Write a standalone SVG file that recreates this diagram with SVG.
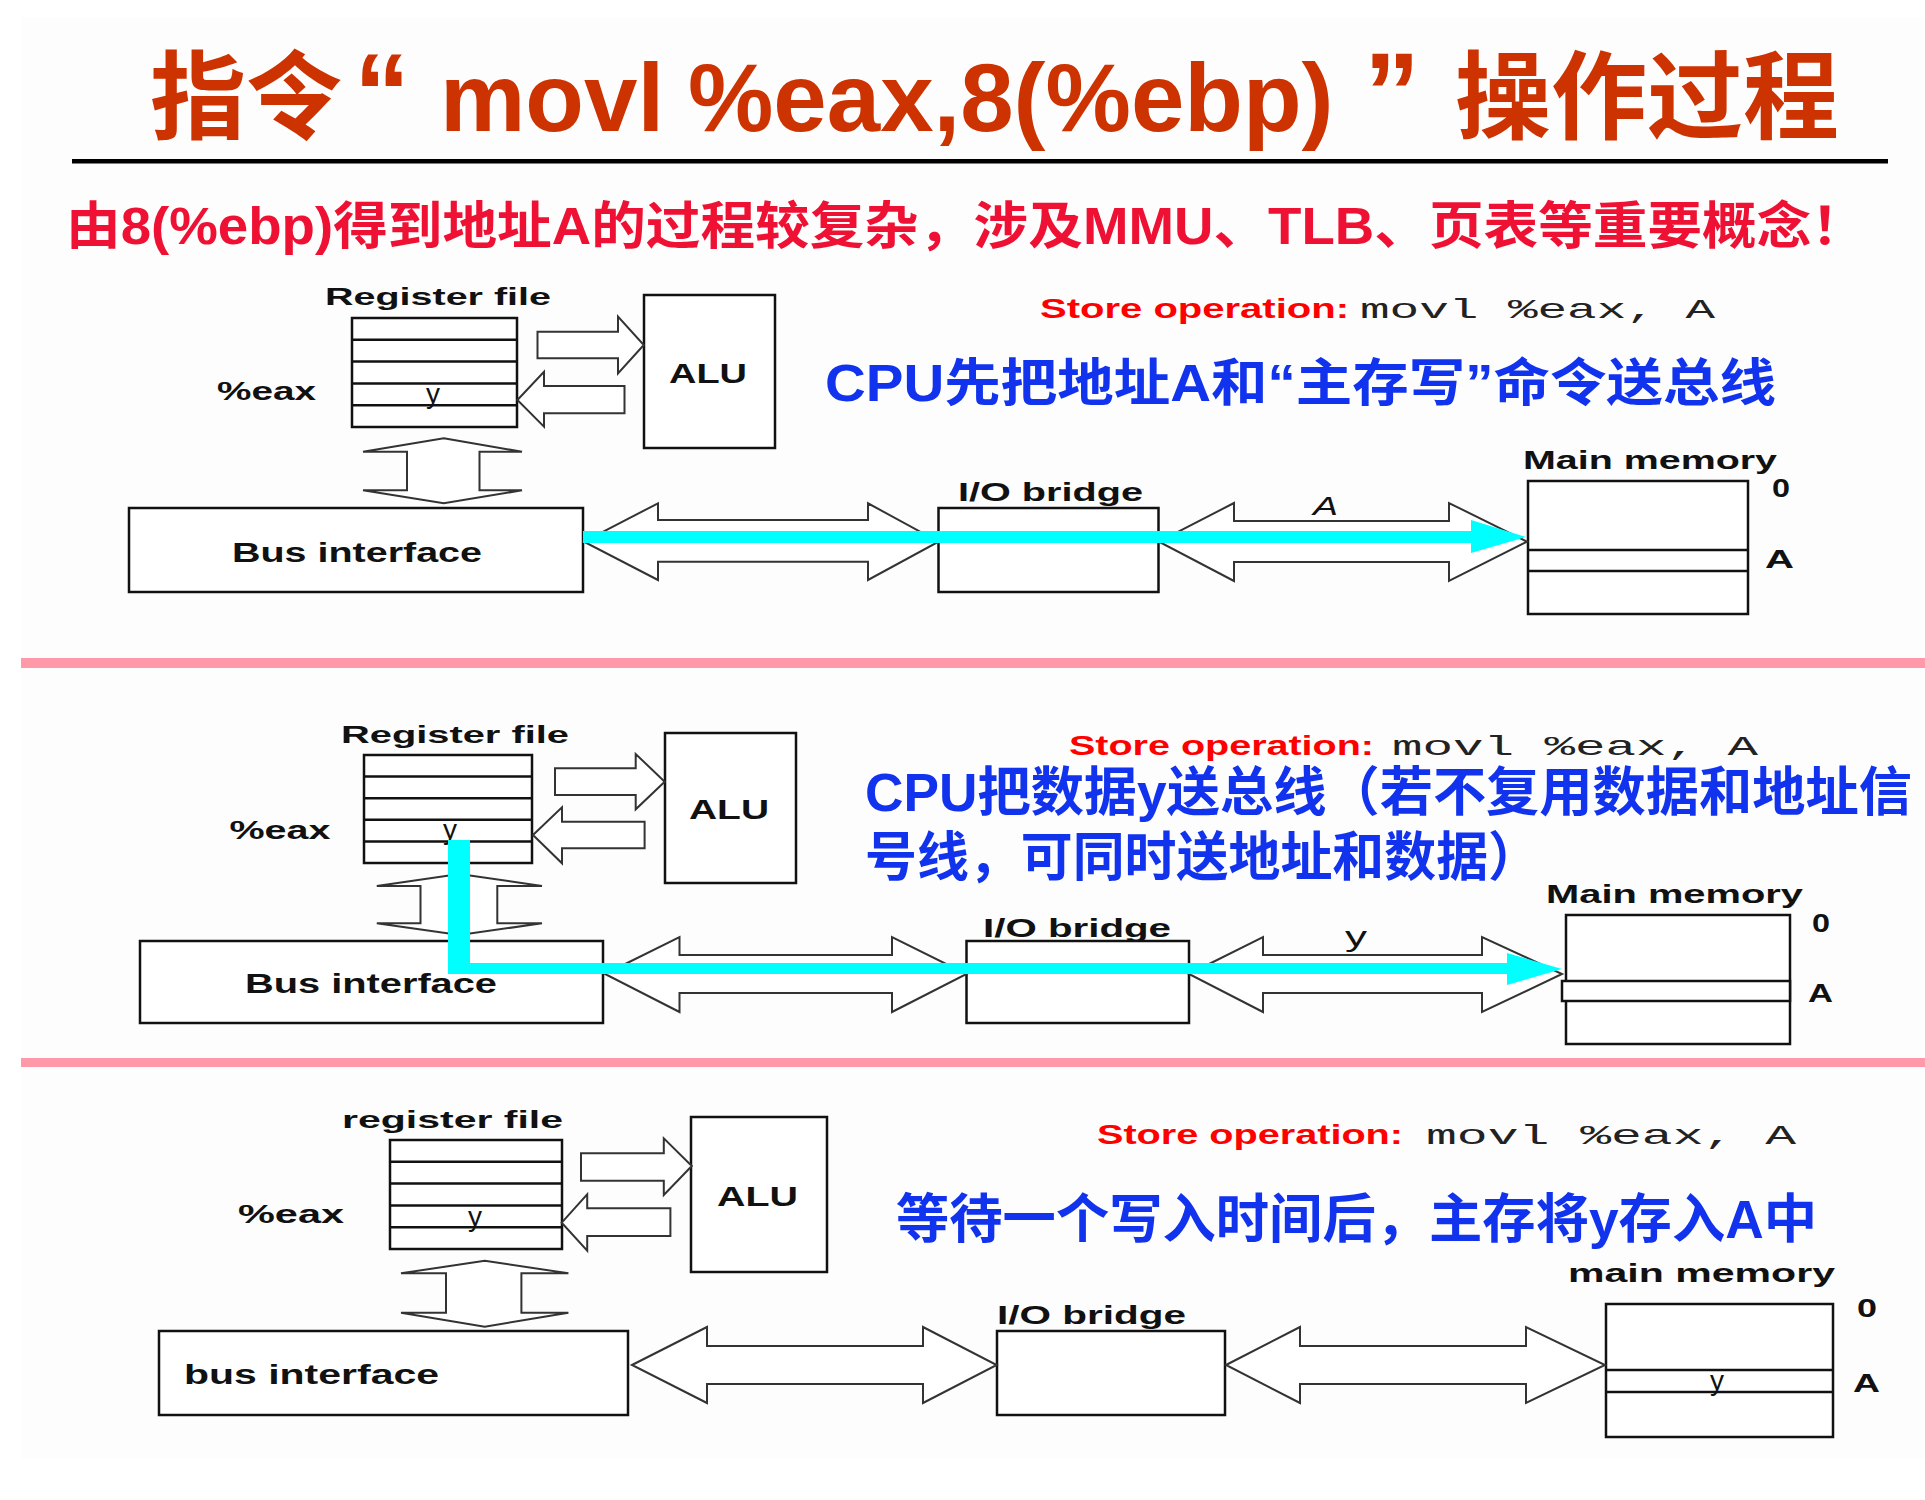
<svg xmlns="http://www.w3.org/2000/svg" width="1925" height="1500" viewBox="0 0 1925 1500">
<style>
.box{fill:#fff;stroke:#111;stroke-width:2.5}
.ln{stroke:#111;stroke-width:2.5;fill:none}
.arw{fill:#fff;stroke:#333;stroke-width:2;stroke-linejoin:miter}
.lbl{font-family:"Liberation Sans",Arial,sans-serif;font-weight:bold;fill:#111}
.reg{font-family:"Liberation Sans",Arial,sans-serif;fill:#111}
.store{font-family:"Liberation Sans",Arial,sans-serif;font-weight:bold;fill:#FF0000}
.mono{font-family:"Liberation Mono","Courier New",monospace;fill:#222}
.blue{font-family:"Liberation Sans","Noto Sans CJK SC",sans-serif;font-weight:bold;fill:#1133EE}
.title{font-family:"Liberation Sans","Noto Sans CJK SC",sans-serif;font-weight:bold;fill:#CC3300;font-size:96px}
.q{font-size:112px}
.sub{font-family:"Liberation Sans","Noto Sans CJK SC",sans-serif;font-weight:bold;fill:#EE1133}
.cyan{fill:#00FFFF}
.sep{fill:#FF99AA}
</style>
<rect x="0" y="0" width="1925" height="1500" fill="#ffffff"/>
<rect x="21" y="17" width="1904" height="1441" fill="#FDFDFD"/>

<g id="header">
<text class="title" y="131"><tspan x="150">指令</tspan><tspan class="q" x="354">“</tspan><tspan x="440">movl </tspan><tspan x="688">%eax,8(%ebp) </tspan><tspan class="q" x="1364">”</tspan><tspan x="1455">操作过程</tspan></text>
<rect x="72" y="159" width="1816" height="4.5" fill="#000"/>
<text class="sub" x="66" y="244" font-size="51" textLength="1800" lengthAdjust="spacingAndGlyphs">由8(%ebp)得到地址A的过程较复杂，涉及MMU、TLB、页表等重要概念！</text>
</g>

<rect class="sep" x="21" y="658" width="1904" height="10"/>
<rect class="sep" x="21" y="1058" width="1904" height="9"/>

<!-- ===== Panel 1 ===== -->
<g id="p1-regfile">
<text class="lbl" x="325" y="305" font-size="24" textLength="226" lengthAdjust="spacingAndGlyphs">Register file</text>
<rect class="box" x="352" y="318" width="165" height="109"/>
<line class="ln" x1="352" y1="339.8" x2="517" y2="339.8"/>
<line class="ln" x1="352" y1="361.6" x2="517" y2="361.6"/>
<line class="ln" x1="352" y1="383.4" x2="517" y2="383.4"/>
<line class="ln" x1="352" y1="405.2" x2="517" y2="405.2"/>
<text class="lbl" x="217" y="400" font-size="26" textLength="99" lengthAdjust="spacingAndGlyphs">%eax</text>
<text class="reg" x="433" y="403" font-size="28" text-anchor="middle">y</text>
</g>
<g id="p1-alu">
<rect class="box" x="644" y="295" width="131" height="153"/>
<text class="lbl" x="669" y="383" font-size="27" textLength="78" lengthAdjust="spacingAndGlyphs">ALU</text>
</g>
<g id="p1-bus">
<rect class="box" x="129" y="508" width="454" height="84"/>
<text class="lbl" x="232" y="562" font-size="28" textLength="250" lengthAdjust="spacingAndGlyphs">Bus interface</text>
</g>
<g id="p1-bridge">
<text class="lbl" x="958" y="501" font-size="26" textLength="185" lengthAdjust="spacingAndGlyphs">I/O bridge</text>
<rect class="box" x="938.5" y="508" width="220" height="84"/>
</g>
<g id="p1-memory">
<text class="lbl" x="1523" y="469" font-size="26" textLength="254" lengthAdjust="spacingAndGlyphs">Main memory</text>
<rect class="box" x="1528" y="481" width="220" height="133"/>
<line class="ln" x1="1528" y1="550" x2="1748" y2="550"/>
<line class="ln" x1="1528" y1="571" x2="1748" y2="571"/>
<text class="lbl" x="1772" y="497" font-size="25" textLength="18" lengthAdjust="spacingAndGlyphs">0</text>
<text class="lbl" x="1765" y="568" font-size="26" textLength="29" lengthAdjust="spacingAndGlyphs">A</text>
</g>
<g id="p1-notes">
<text class="store" x="1040" y="318" font-size="27" textLength="309" lengthAdjust="spacingAndGlyphs">Store operation:</text>
<text class="mono" x="1360" y="318" font-size="28" textLength="355" lengthAdjust="spacingAndGlyphs">movl %eax, A</text>
<text class="blue" x="825" y="401" font-size="51" textLength="951" lengthAdjust="spacingAndGlyphs">CPU先把地址A和“主存写”命令送总线</text>
</g>
<g id="p1-connectors">
<polygon class="arw" points="537.5,331.7 618,331.7 618,316.7 643.8,345 618,373.3 618,358.3 537.5,358.3"/>
<polygon class="arw" points="624.5,386 544,386 544,371.7 517.4,400 544,426.7 544,413.3 624.5,413.3"/>
<polygon class="arw" points="443.75,438.3 522,451.7 479.5,451.7 479.5,490.3 522,490.3 443.75,503.3 363,490.3 407,490.3 407,451.7 363,451.7"/>
<polygon class="arw" points="584,541.7 658,503.3 658,520 868,520 868,503.3 938.5,541.7 868,580 868,561.7 658,561.7 658,580"/>
<polygon class="arw" points="1159,541.7 1234,503 1234,521 1449,521 1449,503 1527,541.7 1449,581 1449,562 1234,562 1234,581"/>
<text class="reg" x="1313" y="515" font-size="26" font-style="italic" textLength="25" lengthAdjust="spacingAndGlyphs">A</text>
<rect class="cyan" x="583" y="531" width="889" height="12"/>
<polygon class="cyan" points="1471,520 1526,537 1471,553"/>
</g>

<!-- ===== Panel 2 ===== -->
<g id="p2-regfile">
<text class="lbl" x="341" y="743" font-size="24" textLength="228" lengthAdjust="spacingAndGlyphs">Register file</text>
<rect class="box" x="364" y="755" width="168" height="108"/>
<line class="ln" x1="364" y1="776.6" x2="532" y2="776.6"/>
<line class="ln" x1="364" y1="798.2" x2="532" y2="798.2"/>
<line class="ln" x1="364" y1="819.8" x2="532" y2="819.8"/>
<line class="ln" x1="364" y1="841.4" x2="532" y2="841.4"/>
<text class="lbl" x="229.5" y="839" font-size="26" textLength="101" lengthAdjust="spacingAndGlyphs">%eax</text>
<text class="reg" x="450" y="839" font-size="28" text-anchor="middle">y</text>
</g>
<g id="p2-alu">
<rect class="box" x="665" y="733" width="131" height="150"/>
<text class="lbl" x="689" y="819" font-size="27" textLength="80" lengthAdjust="spacingAndGlyphs">ALU</text>
</g>
<g id="p2-bus">
<rect class="box" x="140" y="941" width="463" height="82"/>
<text class="lbl" x="245" y="993" font-size="28" textLength="252" lengthAdjust="spacingAndGlyphs">Bus interface</text>
</g>
<g id="p2-bridge">
<text class="lbl" x="983" y="937" font-size="26" textLength="188" lengthAdjust="spacingAndGlyphs">I/O bridge</text>
<rect class="box" x="966.5" y="941" width="222.5" height="82"/>
</g>
<g id="p2-memory">
<text class="lbl" x="1546" y="903" font-size="26" textLength="257" lengthAdjust="spacingAndGlyphs">Main memory</text>
<rect class="box" x="1566" y="915" width="224" height="129"/>
<rect class="box" x="1562" y="981" width="228" height="20"/>
<text class="lbl" x="1812" y="932" font-size="25" textLength="18" lengthAdjust="spacingAndGlyphs">0</text>
<text class="lbl" x="1808" y="1002" font-size="26" textLength="25" lengthAdjust="spacingAndGlyphs">A</text>
</g>
<g id="p2-notes">
<text class="store" x="1069" y="755" font-size="27" textLength="305" lengthAdjust="spacingAndGlyphs">Store operation:</text>
<text class="mono" x="1392" y="755" font-size="28" textLength="366" lengthAdjust="spacingAndGlyphs">movl %eax, A</text>
<text class="blue" x="865" y="811" font-size="53" textLength="1047" lengthAdjust="spacingAndGlyphs">CPU把数据y送总线（若不复用数据和地址信</text>
<text class="blue" x="865" y="876" font-size="53" textLength="675" lengthAdjust="spacingAndGlyphs">号线，可同时送地址和数据）</text>
</g>
<g id="p2-connectors">
<polygon class="arw" points="555,768.3 635.7,768.3 635.7,754 664.7,781.7 635.7,809.3 635.7,795 555,795"/>
<polygon class="arw" points="644.6,821.7 562,821.7 562,807.3 533,835 562,863.3 562,848.3 644.6,848.3"/>
<polygon class="arw" points="459.4,874 542,886 497.3,886 497.3,923.3 542,923.3 459.4,935 376.8,923.3 420.5,923.3 420.5,886 376.8,886"/>
<polygon class="arw" points="605,974 679.5,937 679.5,955 892,955 892,937 966.5,974 892,1012 892,993 679.5,993 679.5,1012"/>
<polygon class="arw" points="1189,974 1263,937 1263,955 1482,955 1482,937 1562,974 1482,1012 1482,993 1263,993 1263,1012"/>
<text class="reg" x="1345" y="946" font-size="27" textLength="22" lengthAdjust="spacingAndGlyphs">y</text>
<polygon class="cyan" points="448,840 470,840 470,963 1508,963 1508,974 448,974"/>
<polygon class="cyan" points="1507,953 1562,969 1507,985"/>
</g>

<!-- ===== Panel 3 ===== -->
<g id="p3-regfile">
<text class="lbl" x="342" y="1128" font-size="24" textLength="221" lengthAdjust="spacingAndGlyphs">register file</text>
<rect class="box" x="390" y="1140" width="172" height="109"/>
<line class="ln" x1="390" y1="1161.8" x2="562" y2="1161.8"/>
<line class="ln" x1="390" y1="1183.6" x2="562" y2="1183.6"/>
<line class="ln" x1="390" y1="1205.4" x2="562" y2="1205.4"/>
<line class="ln" x1="390" y1="1227.2" x2="562" y2="1227.2"/>
<text class="lbl" x="238" y="1223" font-size="26" textLength="106" lengthAdjust="spacingAndGlyphs">%eax</text>
<text class="reg" x="475" y="1226" font-size="28" text-anchor="middle">y</text>
</g>
<g id="p3-alu">
<rect class="box" x="691" y="1117" width="136" height="155"/>
<text class="lbl" x="717" y="1206" font-size="27" textLength="81" lengthAdjust="spacingAndGlyphs">ALU</text>
</g>
<g id="p3-bus">
<rect class="box" x="159" y="1331" width="469" height="84"/>
<text class="lbl" x="184" y="1384" font-size="28" textLength="255" lengthAdjust="spacingAndGlyphs">bus interface</text>
</g>
<g id="p3-bridge">
<text class="lbl" x="997" y="1324" font-size="26" textLength="189" lengthAdjust="spacingAndGlyphs">I/O bridge</text>
<rect class="box" x="997" y="1331" width="228" height="84"/>
</g>
<g id="p3-memory">
<text class="lbl" x="1568" y="1282" font-size="26" textLength="267" lengthAdjust="spacingAndGlyphs">main memory</text>
<rect class="box" x="1606" y="1304" width="227" height="133"/>
<line class="ln" x1="1606" y1="1370" x2="1833" y2="1370"/>
<line class="ln" x1="1606" y1="1392" x2="1833" y2="1392"/>
<text class="reg" x="1717" y="1390" font-size="28" text-anchor="middle">y</text>
<text class="lbl" x="1857" y="1317" font-size="25" textLength="20" lengthAdjust="spacingAndGlyphs">0</text>
<text class="lbl" x="1853" y="1392" font-size="26" textLength="27" lengthAdjust="spacingAndGlyphs">A</text>
</g>
<g id="p3-notes">
<text class="store" x="1097" y="1144" font-size="27" textLength="306" lengthAdjust="spacingAndGlyphs">Store operation:</text>
<text class="mono" x="1426" y="1144" font-size="28" textLength="370" lengthAdjust="spacingAndGlyphs">movl %eax, A</text>
<text class="blue" x="896" y="1238" font-size="53" textLength="921" lengthAdjust="spacingAndGlyphs">等待一个写入时间后，主存将y存入A中</text>
</g>
<g id="p3-connectors">
<polygon class="arw" points="581,1153.3 663.8,1153.3 663.8,1138.3 691.8,1166 663.8,1195 663.8,1180.7 581,1180.7"/>
<polygon class="arw" points="670.4,1208.3 587.2,1208.3 587.2,1194.3 561.7,1222.7 587.2,1250.7 587.2,1236 670.4,1236"/>
<polygon class="arw" points="484.7,1260.7 568.4,1273.3 521.4,1273.3 521.4,1312.7 568.4,1312.7 484.7,1326.7 401,1312.7 446,1312.7 446,1273.3 401,1273.3"/>
<polygon class="arw" points="632,1365 707,1327 707,1346 923,1346 923,1327 996.7,1365 923,1403 923,1384 707,1384 707,1403"/>
<polygon class="arw" points="1226,1365 1300,1327 1300,1346 1526,1346 1526,1327 1605,1365 1526,1403 1526,1384 1300,1384 1300,1403"/>
</g>
</svg>
